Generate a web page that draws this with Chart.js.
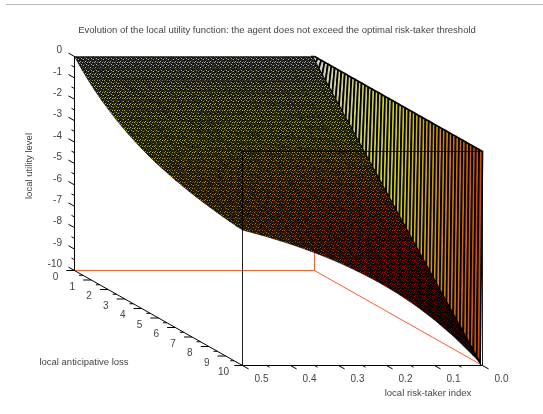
<!DOCTYPE html>
<html>
<head>
<meta charset="UTF-8">
<title>Evolution of the local utility function</title>
<style>
    body { margin: 0; background: #fff; }
    #rule { position: absolute; left: 6px; top: 4px; width: 537px; height: 1px; background: #b8b8b8; }
    canvas { display: block; }
</style>
</head>
<body>
<canvas id="surfaceChart" width="543" height="414"></canvas>
<div id="rule"></div>
<script src="https://cdn.jsdelivr.net/npm/chart.js"></script>
<script>
const chartTitle = 'Evolution of the local utility function: the agent does not exceed the optimal risk-taker threshold';
const utilityTitle = 'local utility level';
const lossTitle = 'local anticipative loss';
const riskTitle = 'local risk-taker index';

const utilityTicks = [0, -1, -2, -3, -4, -5, -6, -7, -8, -9, -10];
const lossTicks = [0, 1, 2, 3, 4, 5, 6, 7, 8, 9, 10];
const riskTicks = [0.5, 0.4, 0.3, 0.2, 0.1, 0.0];

// values
const riskLevels = [0.5, 0.46, 0.42, 0.38, 0.34, 0.3, 0.26, 0.22, 0.18, 0.14, 0.1, 0.06, 0.02, 0.005];
const lossLevels = [0, 0.4, 0.8, 1.2, 1.6, 2, 2.4, 2.8, 3.2, 3.6, 4, 4.4, 4.8, 5.2, 5.6, 6, 6.4, 6.8, 7.2, 7.6, 8, 8.4, 8.8, 9.2, 9.6, 10];
const utilityRows = [
    [0,-0.38,-0.73,-1.04,-1.32,-1.57,-1.80,-2.01,-2.20,-2.37,-2.53,-2.67,-2.80,-2.91,-3.01,-3.11,-3.19,-3.27,-3.34,-3.40,-3.46,-3.51,-3.56,-3.60,-3.64,-3.67],
    [0,-0.38,-0.73,-1.05,-1.34,-1.60,-1.84,-2.06,-2.27,-2.45,-2.61,-2.77,-2.91,-3.03,-3.15,-3.26,-3.35,-3.44,-3.52,-3.59,-3.66,-3.72,-3.77,-3.82,-3.87,-3.91],
    [0,-0.38,-0.74,-1.06,-1.36,-1.63,-1.89,-2.12,-2.33,-2.53,-2.71,-2.87,-3.02,-3.16,-3.29,-3.41,-3.52,-3.62,-3.71,-3.80,-3.87,-3.95,-4.01,-4.07,-4.13,-4.18],
    [0,-0.39,-0.74,-1.07,-1.38,-1.66,-1.93,-2.17,-2.40,-2.61,-2.80,-2.98,-3.15,-3.30,-3.45,-3.58,-3.70,-3.82,-3.92,-4.02,-4.11,-4.20,-4.27,-4.35,-4.41,-4.48],
    [0,-0.39,-0.75,-1.09,-1.40,-1.70,-1.97,-2.23,-2.47,-2.69,-2.90,-3.10,-3.28,-3.45,-3.61,-3.76,-3.90,-4.03,-4.15,-4.27,-4.37,-4.47,-4.56,-4.65,-4.73,-4.81],
    [0,-0.39,-0.75,-1.10,-1.42,-1.73,-2.02,-2.29,-2.54,-2.78,-3.01,-3.22,-3.42,-3.61,-3.79,-3.96,-4.11,-4.26,-4.40,-4.53,-4.66,-4.78,-4.89,-4.99,-5.09,-5.18],
    [0,-0.39,-0.76,-1.11,-1.44,-1.76,-2.06,-2.35,-2.62,-2.87,-3.12,-3.35,-3.57,-3.78,-3.98,-4.17,-4.34,-4.51,-4.68,-4.83,-4.97,-5.11,-5.24,-5.37,-5.48,-5.60],
    [0,-0.39,-0.77,-1.12,-1.47,-1.80,-2.11,-2.41,-2.70,-2.97,-3.24,-3.49,-3.73,-3.96,-4.18,-4.39,-4.59,-4.79,-4.97,-5.15,-5.32,-5.48,-5.64,-5.79,-5.93,-6.06],
    [0,-0.39,-0.77,-1.14,-1.49,-1.83,-2.16,-2.48,-2.78,-3.07,-3.36,-3.63,-3.90,-4.15,-4.40,-4.64,-4.87,-5.09,-5.30,-5.50,-5.70,-5.89,-6.08,-6.26,-6.43,-6.59],
    [0,-0.39,-0.78,-1.15,-1.51,-1.87,-2.21,-2.54,-2.87,-3.18,-3.49,-3.79,-4.08,-4.36,-4.63,-4.90,-5.16,-5.41,-5.66,-5.89,-6.13,-6.35,-6.57,-6.78,-6.99,-7.19],
    [0,-0.40,-0.78,-1.16,-1.54,-1.90,-2.26,-2.61,-2.96,-3.29,-3.63,-3.95,-4.27,-4.58,-4.88,-5.18,-5.48,-5.76,-6.05,-6.32,-6.59,-6.86,-7.12,-7.37,-7.62,-7.87],
    [0,-0.40,-0.79,-1.18,-1.56,-1.94,-2.32,-2.69,-3.05,-3.41,-3.77,-4.12,-4.47,-4.81,-5.15,-5.49,-5.82,-6.15,-6.48,-6.80,-7.11,-7.43,-7.73,-8.04,-8.34,-8.64],
    [0,-0.40,-0.80,-1.19,-1.59,-1.98,-2.37,-2.76,-3.15,-3.54,-3.92,-4.31,-4.69,-5.07,-5.45,-5.83,-6.20,-6.57,-6.95,-7.32,-7.69,-8.06,-8.42,-8.79,-9.15,-9.52],
    [0,-0.40,-0.80,-1.20,-1.60,-2.00,-2.39,-2.79,-3.19,-3.58,-3.98,-4.38,-4.77,-5.17,-5.56,-5.96,-6.35,-6.74,-7.14,-7.53,-7.92,-8.31,-8.70,-9.09,-9.49,-9.88]
];
// the steep wall at the risk-taker end of the surface
const wallLoss = [0,0.2,0.4,0.6,0.8,1,1.2,1.4,1.6,1.8,2,2.2,2.4,2.6,2.8,3,3.2,3.4,3.6,3.8,4,4.2,4.4,4.6,4.8,5,5.2,5.4,5.6,5.8,6,6.2,6.4,6.6,6.8,7,7.2,7.4,7.6,7.8,8,8.2,8.4,8.6,8.8,9,9.2,9.4,9.6,9.8,10];
const wallUtility = [0,-0.20,-0.40,-0.60,-0.80,-1.00,-1.20,-1.40,-1.60,-1.80,-2.00,-2.19,-2.39,-2.59,-2.79,-2.99,-3.19,-3.39,-3.58,-3.78,-3.98,-4.18,-4.38,-4.57,-4.77,-4.97,-5.17,-5.36,-5.56,-5.76,-5.96,-6.15,-6.35,-6.55,-6.74,-6.94,-7.14,-7.33,-7.53,-7.72,-7.92,-8.12,-8.31,-8.51,-8.70,-8.90,-9.09,-9.29,-9.49,-9.68,-9.88];

// orthographic view: data -> plane of the picture
function project(risk, loss, utility) {
    return { x: 74.5 + 480 * (0.5 - risk) + 16.8 * loss, y: 56.5 + 9.5 * loss - 21.4 * utility };
}

// hot colormap over -10..0
function hot(utility) {
    const t = Math.min(1, Math.max(0, (utility + 10) / 10));
    const r = Math.min(1, t / 0.375);
    const g = Math.min(1, Math.max(0, (t - 0.375) / 0.375));
    const b = Math.max(0, (t - 0.75) / 0.25);
    return [r * 255, g * 255, b * 255];
}

function rgb(c, k) {
    return `rgb(${Math.round(c[0] * k)},${Math.round(c[1] * k)},${Math.round(c[2] * k)})`;
}

// speckle of the very dense mesh in the original, one tile per colour
const patterns = {};
function meshPattern(c) {
    const key = c.map(v => Math.round(v / 6)).join('_');
    if (patterns[key]) return patterns[key];
    const tile = document.createElement('canvas');
    tile.width = 5;
    tile.height = 6;
    const t = tile.getContext('2d');
    t.fillStyle = rgb(c, 0.08);
    t.fillRect(0, 0, 5, 6);
    t.fillStyle = rgb(c, 0.28);
    [[1, 0], [3, 1], [0, 3], [4, 4], [2, 5]].forEach(p => t.fillRect(p[0], p[1], 1, 1));
    t.fillStyle = rgb(c, 0.72);
    [[0, 1], [2, 2], [4, 2], [1, 4], [3, 5]].forEach(p => t.fillRect(p[0], p[1], 1, 1));
    patterns[key] = t.createPattern(tile, 'repeat');
    return patterns[key];
}

function lineSet(points, color, width) {
    return { data: points, showLine: true, fill: false, borderColor: color, borderWidth: width, pointRadius: 0, tension: 0, spanGaps: false };
}

// painted back to front, reversed at the end for Chart.js
const painted = [];

const floorOrange = '#ff5a28';
painted.push(lineSet([project(0.5, 0, -10), project(0, 0, -10), project(0, 10, -10)], floorOrange, 1));
painted.push(lineSet([project(0, 0, -10), project(0, 0, 0)], floorOrange, 1));

for (let j = 0; j < wallLoss.length - 1; j++) {
    const a = wallUtility[j], b = wallUtility[j + 1];
    const pts = [project(0, wallLoss[j], 0), project(0, wallLoss[j + 1], 0), project(0.005, wallLoss[j + 1], b), project(0.005, wallLoss[j], a), project(0, wallLoss[j], 0)];
    // a wall cell runs from 0 down to the inner edge, so it takes the middle colour
    painted.push({ data: pts, showLine: true, fill: 'shape', backgroundColor: rgb(hot((a + b) / 4), 0.82), borderColor: '#000', borderWidth: 1.7, pointRadius: 0, tension: 0 });
}

for (let j = 0; j < lossLevels.length - 1; j++) {
    for (let i = 0; i < riskLevels.length - 1; i++) {
        const z = [utilityRows[i][j], utilityRows[i + 1][j], utilityRows[i + 1][j + 1], utilityRows[i][j + 1]];
        const c = hot((z[0] + z[1] + z[2] + z[3]) / 4);
        const pts = [
            project(riskLevels[i], lossLevels[j], z[0]),
            project(riskLevels[i + 1], lossLevels[j], z[1]),
            project(riskLevels[i + 1], lossLevels[j + 1], z[2]),
            project(riskLevels[i], lossLevels[j + 1], z[3]),
            project(riskLevels[i], lossLevels[j], z[0])
        ];
        painted.push({ data: pts, showLine: true, fill: 'shape', backgroundColor: meshPattern(c), borderColor: rgb(c, 0.08), borderWidth: 0.6, pointRadius: 0, tension: 0 });
    }
}

// front edges of the box, they show through the surface
painted.push(lineSet([project(0.5, 0, 0), project(0.5, 10, 0)], 'rgba(0,0,0,0.4)', 1));
painted.push(lineSet([project(0.5, 10, 0), project(0, 10, 0)], 'rgba(0,0,0,0.8)', 1));
painted.push(lineSet([project(0.5, 10, 0), project(0.5, 10, -10)], 'rgba(0,0,0,0.5)', 1));
painted.push(lineSet([project(0, 10, 0), project(0, 10, -10)], 'rgba(0,0,0,0.5)', 1));

// axes and ticks
painted.push(lineSet([project(0.5, 0, 0), project(0.5, 0, -10), project(0.5, 10, -10), project(0, 10, -10)], '#000', 1));
const gap = { x: null, y: null };
const tickPts = [];
utilityTicks.forEach(z => {
    tickPts.push(project(0.5, 0, z), project(0.5, -0.36, z), gap);
    if (z > -10) tickPts.push(project(0.5, 0, z - 0.5), project(0.5, -0.18, z - 0.5), gap);
});
lossTicks.forEach(y => {
    tickPts.push(project(0.5, y, -10), project(0.517, y, -10), gap);
    if (y < 10) tickPts.push(project(0.5, y + 0.5, -10), project(0.508, y + 0.5, -10), gap);
});
riskTicks.forEach(x => {
    tickPts.push(project(x, 10, -10), project(x, 10.36, -10), gap);
    if (x > 0) tickPts.push(project(x - 0.05, 10, -10), project(x - 0.05, 10.18, -10), gap);
});
painted.push(lineSet(tickPts, '#000', 1));

const textColor = '#444';
const axisText = {
    id: 'axisText',
    afterDraw(chart) {
        const ctx = chart.ctx;
        const sx = chart.scales.x, sy = chart.scales.y;
        const put = (s, x, y, align) => {
            ctx.textAlign = align || 'center';
            ctx.fillText(s, sx.getPixelForValue(x), sy.getPixelForValue(y));
        };
        ctx.save();
        ctx.fillStyle = textColor;
        ctx.textBaseline = 'middle';
        ctx.font = '9.5px "Liberation Sans", Arial, sans-serif';
        put(chartTitle, 277, 30);
        put(lossTitle, 84, 362);
        put(riskTitle, 428, 393);
        ctx.font = '10px "Liberation Sans", Arial, sans-serif';
        utilityTicks.forEach(z => {
            const p = project(0.5, 0, z);
            put(String(z), 62, p.y - 6, 'right');
        });
        lossTicks.forEach(y => {
            const p = project(0.5, y, -10);
            put(String(y), p.x - 19, p.y + 7);
        });
        riskTicks.forEach(x => {
            const p = project(x, 10, -10);
            put(x.toFixed(1), p.x + 19, p.y + 14);
        });
        ctx.translate(29, 166);
        ctx.rotate(-Math.PI / 2);
        ctx.font = '9.5px "Liberation Sans", Arial, sans-serif';
        ctx.textAlign = 'center';
        ctx.fillText(utilityTitle, 0, 0);
        ctx.restore();
    }
};

new Chart(document.getElementById('surfaceChart').getContext('2d'), {
    type: 'scatter',
    data: { datasets: painted.reverse() },
    plugins: [axisText],
    options: {
        responsive: false,
        animation: false,
        events: [],
        layout: { padding: 0 },
        plugins: { legend: { display: false }, tooltip: { enabled: false }, title: { display: false } },
        scales: {
            x: { type: 'linear', display: false, min: 0, max: 543 },
            y: { type: 'linear', display: false, min: 0, max: 414, reverse: true }
        }
    }
});
</script>
</body>
</html>
